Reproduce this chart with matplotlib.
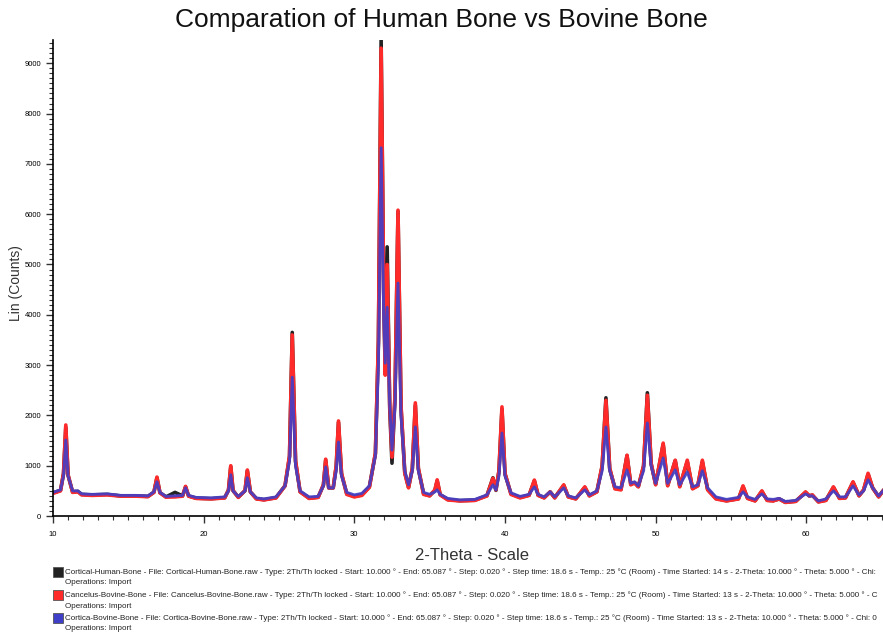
import matplotlib
matplotlib.use('Agg')

import matplotlib.pyplot as plt
from matplotlib.patches import Rectangle
from matplotlib.ticker import MultipleLocator


# ===============================
# DATA
# ===============================
two_theta = [
    10.0, 10.5, 10.7, 10.85, 11.0, 11.3, 11.65, 11.9, 12.6, 13.6, 14.5, 15.5, 16.3, 16.7, 16.9, 17.1, 17.5,
    18.1, 18.6, 18.8, 19.0, 19.5, 20.5, 21.4, 21.65, 21.8, 21.95, 22.3, 22.75, 22.9, 23.1, 23.5, 24.0, 24.8,
    25.4, 25.7, 25.88, 26.1, 26.4, 27.0, 27.6, 27.95, 28.1, 28.3, 28.6, 28.8, 28.95, 29.15, 29.5, 30.0, 30.5,
    31.0, 31.4, 31.6, 31.78, 31.95, 32.05, 32.18, 32.35, 32.5, 32.7, 32.9, 33.1, 33.35, 33.6, 33.85, 34.05,
    34.25, 34.6, 35.0, 35.35, 35.5, 35.7,
    36.2, 37.0, 38.0, 38.8, 39.2, 39.4, 39.6, 39.8, 40.0, 40.4, 41.0, 41.6, 41.95, 42.2, 42.6, 43.0, 43.3,
    43.9, 44.2, 44.7, 45.3, 45.6,
    46.1, 46.45, 46.7, 46.95, 47.3, 47.7, 48.1, 48.35, 48.6, 48.85, 49.2, 49.45, 49.7, 50.0, 50.5, 50.8,
    51.3, 51.6, 52.1, 52.45, 52.8, 53.1, 53.45,
    54.0, 54.7, 55.5, 55.8, 56.1, 56.6, 57.05, 57.4, 57.8, 58.2, 58.6, 59.3, 59.95, 60.2, 60.4, 60.8, 61.3,
    61.8, 62.2, 62.6, 63.1, 63.5, 63.8, 64.1, 64.4, 64.8, 65.09,
]

human_cortical = [
    460, 510, 840, 1760, 810, 480, 490, 430, 420, 430, 400, 400, 390, 475, 760, 465, 380,
    470, 400, 580, 400, 355, 345, 365, 515, 980, 505, 375, 505, 900, 480, 345, 325, 365,
    600, 1180, 3650, 1080, 485, 355, 375, 615, 1110, 560, 560, 990, 1860, 840, 440, 390, 420,
    580, 1240, 3450, 9460, 4450, 2900, 5350, 2150, 1050, 2350, 6050, 2150, 860, 570, 940, 2200,
    940, 440, 405, 510, 700, 425,
    330, 305, 315, 405, 760, 510, 890, 2120, 840, 440, 370, 415, 700, 415, 365, 480, 365,
    610, 385, 345, 570, 405,
    485, 990, 2350, 940, 550, 530, 1200, 630, 665, 585, 990, 2450, 1040, 630, 1420, 610,
    1100, 590, 1080, 550, 605, 1080, 530,
    350, 305, 345, 580, 355, 305, 490, 315, 305, 340, 275, 295, 470, 400, 415, 285, 315,
    570, 355, 365, 670, 405, 515, 830, 560, 385, 500,
]

bovine_cancellous = [
    450, 500, 850, 1810, 820, 470, 480, 420, 410, 420, 395, 395, 385, 470, 775, 460, 375,
    380, 395, 590, 395, 350, 340, 360, 520, 1000, 510, 370, 510, 915, 480, 340, 320, 360,
    600, 1200, 3600, 1100, 480, 350, 370, 620, 1130, 560, 560, 1000, 1890, 850, 430, 380, 410,
    570, 1250, 3500, 9300, 4500, 2800, 5000, 2200, 1170, 2400, 6080, 2200, 850, 560, 950, 2250,
    950, 430, 400, 520, 720, 420,
    320, 300, 310, 400, 750, 520, 900, 2170, 850, 430, 360, 410, 715, 410, 360, 480, 360,
    620, 380, 340, 580, 400,
    480, 1000, 2300, 950, 540, 520, 1210, 620, 660, 580, 1000, 2400, 1050, 620, 1450, 600,
    1110, 580, 1110, 540, 600, 1110, 520,
    340, 300, 340, 600, 350, 300, 500, 310, 300, 340, 270, 290, 480, 400, 420, 280, 310,
    580, 350, 360, 680, 400, 520, 850, 560, 380, 500,
]

bovine_cortical = [
    470, 520, 800, 1510, 800, 500, 500, 440, 430, 440, 410, 410, 400, 480, 680, 470, 390,
    400, 410, 560, 410, 370, 360, 380, 500, 820, 500, 390, 500, 760, 480, 360, 340, 380,
    600, 1100, 2760, 1000, 500, 380, 390, 600, 975, 560, 560, 900, 1470, 800, 470, 420, 450,
    600, 1200, 3000, 7320, 4000, 3040, 4150, 2200, 1310, 2200, 4630, 2000, 900, 620, 900, 1770,
    900, 470, 430, 480, 520, 430,
    350, 320, 330, 420, 620, 520, 800, 1650, 800, 460, 390, 430, 580, 430, 380, 480, 380,
    560, 400, 360, 520, 420,
    500, 900, 1770, 900, 580, 560, 915, 650, 680, 600, 900, 1850, 1000, 650, 1150, 650,
    915, 620, 875, 580, 620, 900, 560,
    380, 330, 370, 480, 380, 330, 440, 340, 330, 350, 290, 310, 440, 400, 400, 300, 340,
    500, 380, 380, 600, 420, 500, 720, 560, 400, 500,
]

legend_lines = [
    "Cortical-Human-Bone - File: Cortical-Human-Bone.raw - Type: 2Th/Th locked - Start: 10.000 \u00b0 - End: 65.087 \u00b0 - Step: 0.020 \u00b0 - Step time: 18.6 s - Temp.: 25 \u00b0C (Room) - Time Started: 14 s - 2-Theta: 10.000 \u00b0 - Theta: 5.000 \u00b0 - Chi:",
    "Cancelus-Bovine-Bone - File: Cancelus-Bovine-Bone.raw - Type: 2Th/Th locked - Start: 10.000 \u00b0 - End: 65.087 \u00b0 - Step: 0.020 \u00b0 - Step time: 18.6 s - Temp.: 25 \u00b0C (Room) - Time Started: 13 s - 2-Theta: 10.000 \u00b0 - Theta: 5.000 \u00b0 - C",
    "Cortica-Bovine-Bone - File: Cortica-Bovine-Bone.raw - Type: 2Th/Th locked - Start: 10.000 \u00b0 - End: 65.087 \u00b0 - Step: 0.020 \u00b0 - Step time: 18.6 s - Temp.: 25 \u00b0C (Room) - Time Started: 13 s - 2-Theta: 10.000 \u00b0 - Theta: 5.000 \u00b0 - Chi: 0",
]
legend_colors = ['#222222', '#ff2a2a', '#3f3fc8']


# ===============================
# PLOT
# ===============================
plt.rcParams['font.family'] = ['Liberation Sans', 'DejaVu Sans']

fig = plt.figure(figsize=(8.83, 6.32), dpi=100)
ax = fig.add_axes([0.060, 0.1835, 0.94, 0.753])

ax.plot(two_theta, human_cortical, color=legend_colors[0], linewidth=2.6)
ax.plot(two_theta, bovine_cancellous, color=legend_colors[1], linewidth=2.6)
ax.plot(two_theta, bovine_cortical, color=legend_colors[2], linewidth=2.1, alpha=0.9)

ax.set_xlim(10, 65.09)
ax.set_ylim(0, 9460)

for side in ['top', 'right']:
    ax.spines[side].set_visible(False)
ax.spines['left'].set_linewidth(1.2)
ax.spines['bottom'].set_linewidth(1.2)

ax.xaxis.set_major_locator(MultipleLocator(10))
ax.xaxis.set_minor_locator(MultipleLocator(1))
ax.yaxis.set_major_locator(MultipleLocator(1000))
ax.yaxis.set_minor_locator(MultipleLocator(100))
ax.tick_params(axis='both', which='major', length=5, width=1.0, labelsize=5.5, color='#333333')
ax.tick_params(axis='both', which='minor', length=3, width=0.8, color='#333333')
ax.tick_params(axis='x', which='major', pad=6)

ax.set_ylabel("Lin (Counts)", fontsize=10, color='#333333')
ax.yaxis.set_label_coords(-0.036, 0.49)
ax.set_xlabel("2-Theta - Scale", fontsize=12, color='#333333')
ax.xaxis.set_label_coords(0.505, -0.068)

fig.text(0.5, 0.968, "Comparation of Human Bone vs Bovine Bone",
         ha='center', va='center', fontsize=19, color='#111111')

# instrument-style legend block below the axes
row_y = [572, 595, 618]
for label, color, y in zip(legend_lines, legend_colors, row_y):
    fig.patches.append(Rectangle((53 / 883, 1 - (y + 5) / 632), 10 / 883, 10 / 632,
                                 transform=fig.transFigure, facecolor=color,
                                 edgecolor='#555555', linewidth=0.6))
    fig.text(65 / 883, 1 - y / 632, label, fontsize=5.8, va='center', ha='left', color='#222222')
    fig.text(65 / 883, 1 - (y + 11) / 632, "Operations: Import", fontsize=5.8,
             va='center', ha='left', color='#222222')

plt.savefig("out.png", dpi=100)
plt.close()
